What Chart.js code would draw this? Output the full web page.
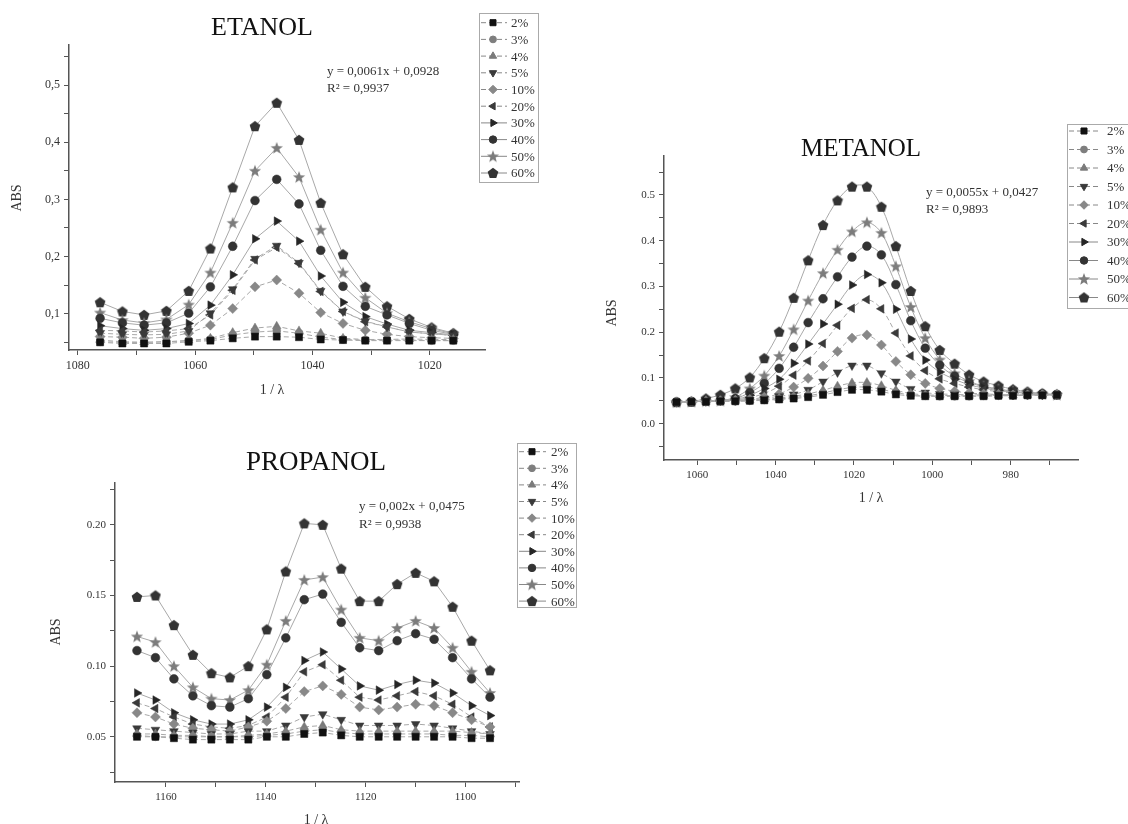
<!DOCTYPE html>
<html>
<head>
<meta charset="utf-8">
<script src="https://cdn.jsdelivr.net/npm/chart.js"></script>
<style>
  body { margin: 0; background: #fff; }
  #page { position: relative; width: 1128px; height: 824px; overflow: hidden; background: #fff; }
  canvas { position: absolute; }
</style>
</head>
<body>
<div id="page">
  <canvas id="etanolChart" width="550" height="405" style="left:0;top:0"></canvas>
  <canvas id="metanolChart" width="533" height="410" style="left:595px;top:110px"></canvas>
  <canvas id="propanolChart" width="590" height="394" style="left:0;top:430px"></canvas>
</div>
<script>
// SERIES NAMES
const seriesLabels = ["2%", "3%", "4%", "5%", "10%", "20%", "30%", "40%", "50%", "60%"];

// ETANOL
const etanolX = [1076.2, 1072.4, 1068.7, 1064.9, 1061.1, 1057.4, 1053.6, 1049.8, 1046.1, 1042.3, 1038.6, 1034.8, 1031.0, 1027.3, 1023.5, 1019.7, 1016.0];
const etanol2 = [0.050, 0.048, 0.048, 0.048, 0.051, 0.053, 0.057, 0.060, 0.060, 0.059, 0.055, 0.054, 0.053, 0.053, 0.053, 0.053, 0.053];
const etanol3 = [0.051, 0.050, 0.050, 0.051, 0.053, 0.055, 0.063, 0.068, 0.070, 0.066, 0.059, 0.055, 0.054, 0.054, 0.054, 0.053, 0.053];
const etanol4 = [0.054, 0.051, 0.050, 0.051, 0.053, 0.057, 0.067, 0.075, 0.078, 0.070, 0.066, 0.057, 0.055, 0.055, 0.056, 0.055, 0.055];
const etanol5 = [0.066, 0.064, 0.063, 0.064, 0.070, 0.101, 0.143, 0.196, 0.219, 0.189, 0.140, 0.104, 0.087, 0.077, 0.068, 0.065, 0.062];
const etanol10 = [0.060, 0.059, 0.057, 0.059, 0.066, 0.080, 0.109, 0.147, 0.159, 0.136, 0.102, 0.083, 0.071, 0.064, 0.060, 0.058, 0.057];
const etanol20 = [0.071, 0.070, 0.068, 0.070, 0.074, 0.098, 0.141, 0.194, 0.216, 0.188, 0.139, 0.104, 0.086, 0.077, 0.068, 0.065, 0.062];
const etanol30 = [0.079, 0.074, 0.071, 0.074, 0.083, 0.115, 0.168, 0.231, 0.262, 0.227, 0.166, 0.120, 0.095, 0.082, 0.071, 0.067, 0.063];
const etanol40 = [0.092, 0.084, 0.080, 0.084, 0.101, 0.147, 0.218, 0.298, 0.335, 0.292, 0.211, 0.148, 0.113, 0.098, 0.083, 0.071, 0.064];
const etanol50 = [0.102, 0.089, 0.084, 0.090, 0.116, 0.172, 0.259, 0.350, 0.390, 0.339, 0.247, 0.172, 0.128, 0.101, 0.086, 0.074, 0.065];
const etanol60 = [0.120, 0.104, 0.098, 0.105, 0.140, 0.214, 0.321, 0.428, 0.469, 0.404, 0.294, 0.204, 0.147, 0.113, 0.091, 0.076, 0.066];
const etanolYTicks = [0.05, 0.1, 0.15, 0.2, 0.25, 0.3, 0.35, 0.4, 0.45, 0.5, 0.55];
const etanolYLabels = ["", "0,1", "", "0,2", "", "0,3", "", "0,4", "", "0,5", ""];
const etanolXTicks = [1080, 1070, 1060, 1050, 1040, 1030, 1020];
const etanolXLabels = ["1080", "", "1060", "", "1040", "", "1020"];

// METANOL
const metanolX = [1065.3, 1061.5, 1057.8, 1054.1, 1050.3, 1046.6, 1042.9, 1039.1, 1035.4, 1031.7, 1027.9, 1024.2, 1020.5, 1016.7, 1013.0, 1009.3, 1005.5, 1001.8, 998.1, 994.3, 990.6, 986.9, 983.1, 979.4, 975.7, 971.9, 968.2];
const metanol2 = [0.047, 0.048, 0.048, 0.049, 0.049, 0.050, 0.051, 0.053, 0.055, 0.058, 0.063, 0.069, 0.074, 0.074, 0.070, 0.064, 0.061, 0.060, 0.060, 0.060, 0.060, 0.060, 0.061, 0.061, 0.062, 0.062, 0.063];
const metanol3 = [0.047, 0.048, 0.048, 0.049, 0.049, 0.050, 0.052, 0.054, 0.057, 0.061, 0.067, 0.074, 0.079, 0.080, 0.075, 0.068, 0.063, 0.061, 0.060, 0.060, 0.060, 0.061, 0.061, 0.062, 0.062, 0.063, 0.063];
const metanol4 = [0.047, 0.048, 0.048, 0.049, 0.050, 0.051, 0.053, 0.056, 0.060, 0.065, 0.073, 0.082, 0.089, 0.090, 0.083, 0.073, 0.066, 0.063, 0.062, 0.061, 0.061, 0.061, 0.062, 0.062, 0.062, 0.063, 0.063];
const metanol5 = [0.047, 0.048, 0.049, 0.050, 0.051, 0.052, 0.055, 0.060, 0.064, 0.074, 0.092, 0.112, 0.127, 0.127, 0.110, 0.092, 0.076, 0.068, 0.065, 0.064, 0.063, 0.063, 0.063, 0.063, 0.063, 0.063, 0.063];
const metanol10 = [0.047, 0.048, 0.049, 0.050, 0.051, 0.053, 0.058, 0.065, 0.080, 0.099, 0.126, 0.158, 0.187, 0.194, 0.172, 0.136, 0.107, 0.088, 0.077, 0.071, 0.067, 0.065, 0.064, 0.063, 0.063, 0.063, 0.063];
const metanol20 = [0.047, 0.048, 0.049, 0.050, 0.052, 0.057, 0.066, 0.082, 0.106, 0.137, 0.175, 0.215, 0.252, 0.271, 0.251, 0.198, 0.148, 0.116, 0.098, 0.088, 0.080, 0.074, 0.070, 0.067, 0.065, 0.064, 0.063];
const metanol30 = [0.047, 0.048, 0.049, 0.050, 0.053, 0.062, 0.077, 0.097, 0.132, 0.174, 0.218, 0.261, 0.303, 0.326, 0.308, 0.250, 0.185, 0.139, 0.113, 0.097, 0.085, 0.078, 0.072, 0.069, 0.066, 0.064, 0.063];
const metanol40 = [0.047, 0.048, 0.049, 0.050, 0.055, 0.068, 0.088, 0.121, 0.167, 0.221, 0.273, 0.321, 0.364, 0.388, 0.369, 0.304, 0.225, 0.165, 0.128, 0.104, 0.090, 0.081, 0.074, 0.070, 0.066, 0.065, 0.063];
const metanol50 = [0.047, 0.048, 0.049, 0.050, 0.058, 0.077, 0.105, 0.148, 0.206, 0.269, 0.329, 0.380, 0.420, 0.440, 0.417, 0.344, 0.255, 0.187, 0.140, 0.110, 0.093, 0.082, 0.076, 0.071, 0.068, 0.065, 0.063];
const metanol60 = [0.047, 0.048, 0.055, 0.063, 0.077, 0.101, 0.143, 0.201, 0.275, 0.357, 0.434, 0.488, 0.518, 0.518, 0.474, 0.388, 0.290, 0.213, 0.161, 0.131, 0.107, 0.092, 0.083, 0.075, 0.070, 0.066, 0.064];
const metanolYTicks = [-0.05, 0, 0.05, 0.1, 0.15, 0.2, 0.25, 0.3, 0.35, 0.4, 0.45, 0.5, 0.55];
const metanolYLabels = ["", "0.0", "", "0.1", "", "0.2", "", "0.3", "", "0.4", "", "0.5", ""];
const metanolXTicks = [1060, 1050, 1040, 1030, 1020, 1010, 1000, 990, 980, 970];
const metanolXLabels = ["1060", "", "1040", "", "1020", "", "1000", "", "980", ""];

// PROPANOL
const propanolX = [1165.8, 1162.1, 1158.4, 1154.6, 1150.9, 1147.2, 1143.5, 1139.8, 1136.0, 1132.3, 1128.6, 1124.9, 1121.2, 1117.4, 1113.7, 1110.0, 1106.3, 1102.6, 1098.8, 1095.1];
const propanol2 = [0.050, 0.050, 0.049, 0.048, 0.048, 0.048, 0.048, 0.050, 0.050, 0.052, 0.053, 0.051, 0.050, 0.050, 0.050, 0.050, 0.050, 0.050, 0.049, 0.049];
const propanol3 = [0.051, 0.050, 0.050, 0.050, 0.050, 0.050, 0.050, 0.051, 0.052, 0.054, 0.055, 0.053, 0.052, 0.052, 0.052, 0.052, 0.052, 0.051, 0.051, 0.050];
const propanol4 = [0.052, 0.052, 0.051, 0.051, 0.050, 0.050, 0.051, 0.052, 0.054, 0.057, 0.058, 0.055, 0.054, 0.054, 0.054, 0.054, 0.054, 0.054, 0.053, 0.052];
const propanol5 = [0.056, 0.055, 0.054, 0.053, 0.052, 0.052, 0.054, 0.054, 0.058, 0.064, 0.066, 0.062, 0.058, 0.058, 0.058, 0.059, 0.058, 0.056, 0.054, 0.052];
const propanol10 = [0.067, 0.064, 0.059, 0.056, 0.055, 0.054, 0.057, 0.061, 0.070, 0.082, 0.086, 0.080, 0.071, 0.069, 0.071, 0.073, 0.072, 0.067, 0.062, 0.057];
const propanol20 = [0.074, 0.070, 0.064, 0.059, 0.057, 0.056, 0.058, 0.064, 0.078, 0.096, 0.101, 0.090, 0.078, 0.076, 0.079, 0.082, 0.079, 0.073, 0.064, 0.057];
const propanol30 = [0.081, 0.076, 0.067, 0.062, 0.059, 0.059, 0.062, 0.071, 0.085, 0.104, 0.110, 0.098, 0.086, 0.083, 0.087, 0.090, 0.088, 0.081, 0.072, 0.065];
const propanol40 = [0.111, 0.106, 0.091, 0.079, 0.072, 0.071, 0.077, 0.094, 0.120, 0.147, 0.151, 0.131, 0.113, 0.111, 0.118, 0.123, 0.119, 0.106, 0.091, 0.078];
const propanol50 = [0.121, 0.117, 0.100, 0.085, 0.077, 0.076, 0.083, 0.101, 0.132, 0.161, 0.163, 0.140, 0.120, 0.118, 0.127, 0.132, 0.127, 0.113, 0.096, 0.081];
const propanol60 = [0.149, 0.150, 0.129, 0.108, 0.095, 0.092, 0.100, 0.126, 0.167, 0.201, 0.200, 0.169, 0.146, 0.146, 0.158, 0.166, 0.160, 0.142, 0.118, 0.097];
const propanolYTicks = [0.025, 0.05, 0.075, 0.1, 0.125, 0.15, 0.175, 0.2, 0.225];
const propanolYLabels = ["", "0.05", "", "0.10", "", "0.15", "", "0.20", ""];
const propanolXTicks = [1160, 1150, 1140, 1130, 1120, 1110, 1100, 1090];
const propanolXLabels = ["1160", "", "1140", "", "1120", "", "1100", ""];

const FONT = '"Liberation Serif", "Times New Roman", serif';

// MARKERS (filled star and pentagon are small canvases)
function shapeCanvas(size, color, pts) {
  const c = document.createElement("canvas");
  c.width = size;
  c.height = size;
  const g = c.getContext("2d");
  g.fillStyle = color;
  g.beginPath();
  pts.forEach((p, i) => i ? g.lineTo(p[0], p[1]) : g.moveTo(p[0], p[1]));
  g.closePath();
  g.fill();
  return c;
}

function starPoints(cx, cy, ro, ri) {
  const pts = [];
  for (let i = 0; i < 10; i++) {
    const r = i % 2 ? ri : ro;
    const a = -Math.PI / 2 + i * Math.PI / 5;
    pts.push([cx + r * Math.cos(a), cy + r * Math.sin(a)]);
  }
  return pts;
}

function pentPoints(cx, cy, r) {
  const pts = [];
  for (let i = 0; i < 5; i++) {
    const a = -Math.PI / 2 + i * 2 * Math.PI / 5;
    pts.push([cx + r * Math.cos(a), cy + r * Math.sin(a)]);
  }
  return pts;
}

const starImg = shapeCanvas(14, "#7c7c7c", starPoints(7, 7.5, 6.4, 2.7));
const pentImg = shapeCanvas(12, "#333", pentPoints(6, 6.4, 5.6));

const markers = [
  { pointStyle: "rect", color: "#111", radius: 5, dash: [5, 3] },
  { pointStyle: "circle", color: "#7e7e7e", radius: 4, dash: [5, 3] },
  { pointStyle: "triangle", color: "#7a7a7a", radius: 5, dash: [5, 3] },
  { pointStyle: "triangle", rotation: 180, color: "#3a3a3a", radius: 5, dash: [5, 3] },
  { pointStyle: "rectRot", color: "#888", radius: 5, dash: [5, 3] },
  { pointStyle: "triangle", rotation: -90, color: "#3a3a3a", radius: 5, dash: [5, 3] },
  { pointStyle: "triangle", rotation: 90, color: "#262626", radius: 5, dash: [] },
  { pointStyle: "circle", color: "#333", radius: 4.4, dash: [] },
  { pointStyle: starImg, color: "#7c7c7c", radius: 6, dash: [] },
  { pointStyle: pentImg, color: "#333", radius: 6, dash: [] }
];

function buildDatasets(xs, seriesList, tension) {
  return seriesList.map((ys, i) => {
    const m = markers[i];
    return {
      label: seriesLabels[i],
      data: ys.map((y, j) => ({ x: xs[j], y: y })),
      showLine: true,
      borderColor: "#a8a8a8",
      borderWidth: 1,
      borderDash: m.dash,
      tension: tension,
      pointStyle: m.pointStyle,
      pointRotation: m.rotation || 0,
      pointRadius: m.radius,
      pointBackgroundColor: m.color,
      pointBorderColor: m.color,
      pointBorderWidth: 0.5
    };
  });
}

// TEXT, AXIS TITLES AND BOXED LEGEND
const decor = {
  id: "decor",
  afterDraw(chart, args, o) {
    const ctx = chart.ctx;
    ctx.save();
    ctx.textBaseline = "middle";

    ctx.fillStyle = "#111";
    ctx.font = `${o.titleSize}px ${FONT}`;
    ctx.textAlign = "center";
    ctx.fillText(o.title, o.titleX, o.titleY);

    ctx.fillStyle = "#333";
    ctx.font = `13px ${FONT}`;
    ctx.textAlign = "left";
    o.eq.forEach((t, i) => ctx.fillText(t, o.eqX, o.eqY + i * o.eqGap));

    ctx.font = `14px ${FONT}`;
    ctx.textAlign = "center";
    ctx.fillText(o.xTitle, o.xTitleX, o.xTitleY);
    ctx.save();
    ctx.translate(o.yTitleX, o.yTitleY);
    ctx.rotate(-Math.PI / 2);
    ctx.fillText("ABS", 0, 0);
    ctx.restore();

    const L = o.legend;
    ctx.strokeStyle = "#aaa";
    ctx.lineWidth = 1;
    ctx.strokeRect(L.x + 0.5, L.y + 0.5, L.w, L.h);
    ctx.font = `13px ${FONT}`;
    ctx.textAlign = "left";
    chart.data.datasets.forEach((ds, i) => {
      const y = L.rowY + i * L.rowGap;
      ctx.strokeStyle = "#888";
      ctx.setLineDash(ds.borderDash);
      ctx.beginPath();
      ctx.moveTo(L.lineX0, y);
      ctx.lineTo(L.lineX1, y);
      ctx.stroke();
      ctx.setLineDash([]);
      ctx.fillStyle = ds.pointBackgroundColor;
      ctx.strokeStyle = ds.pointBorderColor;
      Chart.helpers.drawPoint(ctx, {
        pointStyle: ds.pointStyle,
        rotation: ds.pointRotation,
        radius: ds.pointRadius * 0.85,
        borderWidth: 0.5
      }, L.markX, y);
      ctx.fillStyle = "#333";
      ctx.fillText(ds.label, L.textX, y + 1);
    });
    ctx.restore();
  }
};

function axis(min, max, reverse, tickVals, tickLabels, fontSize, fix) {
  return {
    type: "linear",
    min: min,
    max: max,
    reverse: reverse,
    afterBuildTicks: s => { s.ticks = tickVals.map(v => ({ value: v })); },
    afterFit: fix,
    border: { display: true, color: "#555", width: 1.5 },
    grid: { drawOnChartArea: false, drawTicks: true, tickLength: 5, color: "#555", lineWidth: 1 },
    ticks: {
      autoSkip: false,
      maxRotation: 0,
      padding: 4,
      color: "#333",
      font: { family: FONT, size: fontSize },
      callback: (v, i) => tickLabels[i]
    }
  };
}

function drawChart(id, datasets, sc, pad, decorOpts) {
  return new Chart(document.getElementById(id), {
    type: "scatter",
    data: { datasets: datasets },
    options: {
      responsive: false,
      animation: false,
      events: [],
      layout: { padding: pad },
      plugins: { legend: { display: false }, tooltip: { enabled: false }, decor: decorOpts },
      scales: { x: sc.x, y: sc.y }
    },
    plugins: [decor]
  });
}

// ETANOL
drawChart("etanolChart",
  buildDatasets(etanolX, [etanol2, etanol3, etanol4, etanol5, etanol10, etanol20, etanol30, etanol40, etanol50, etanol60], 0),
  {
    x: axis(1010.6, 1081.5, true, etanolXTicks, etanolXLabels, 12, s => { s.height = 55; }),
    y: axis(0.0366, 0.570, false, etanolYTicks, etanolYLabels, 12, s => { s.width = 69; })
  },
  { left: 0, top: 45, right: 65, bottom: 0 },
  {
    title: "ETANOL", titleX: 262, titleY: 28, titleSize: 26,
    eq: ["y = 0,0061x + 0,0928", "R² = 0,9937"], eqX: 327, eqY: 72, eqGap: 17,
    xTitle: "1 / λ", xTitleX: 272, xTitleY: 390, yTitleX: 17, yTitleY: 198,
    legend: { x: 479, y: 13, w: 59, h: 169, rowY: 22.7, rowGap: 16.7, lineX0: 481, lineX1: 507, markX: 493, textX: 511 }
  }
);

// METANOL
drawChart("metanolChart",
  buildDatasets(metanolX, [metanol2, metanol3, metanol4, metanol5, metanol10, metanol20, metanol30, metanol40, metanol50, metanol60], 0.35),
  {
    x: axis(962.8, 1068.5, true, metanolXTicks, metanolXLabels, 11, s => { s.height = 60; }),
    y: axis(-0.0794, 0.585, false, metanolYTicks, metanolYLabels, 11, s => { s.width = 69; })
  },
  { left: 0, top: 46, right: 50, bottom: 0 },
  {
    title: "METANOL", titleX: 266, titleY: 39, titleSize: 25,
    eq: ["y = 0,0055x + 0,0427", "R² = 0,9893"], eqX: 331, eqY: 83, eqGap: 16.6,
    xTitle: "1 / λ", xTitleX: 276, xTitleY: 388, yTitleX: 17, yTitleY: 203,
    legend: { x: 472, y: 14, w: 90, h: 184, rowY: 21, rowGap: 18.5, lineX0: 474, lineX1: 503, markX: 489, textX: 512 }
  }
);

// PROPANOL
drawChart("propanolChart",
  buildDatasets(propanolX, [propanol2, propanol3, propanol4, propanol5, propanol10, propanol20, propanol30, propanol40, propanol50, propanol60], 0),
  {
    x: axis(1089.3, 1170.2, true, propanolXTicks, propanolXLabels, 11, s => { s.height = 42; }),
    y: axis(0.018, 0.2296, false, propanolYTicks, propanolYLabels, 11, s => { s.width = 115; })
  },
  { left: 0, top: 53, right: 71, bottom: 0 },
  {
    title: "PROPANOL", titleX: 316, titleY: 33, titleSize: 27,
    eq: ["y = 0,002x + 0,0475", "R² = 0,9938"], eqX: 359, eqY: 77, eqGap: 18,
    xTitle: "1 / λ", xTitleX: 316, xTitleY: 390, yTitleX: 56, yTitleY: 202,
    legend: { x: 517, y: 13, w: 59, h: 164, rowY: 21.7, rowGap: 16.6, lineX0: 519, lineX1: 546, markX: 532, textX: 551 }
  }
);
</script>
</body>
</html>
